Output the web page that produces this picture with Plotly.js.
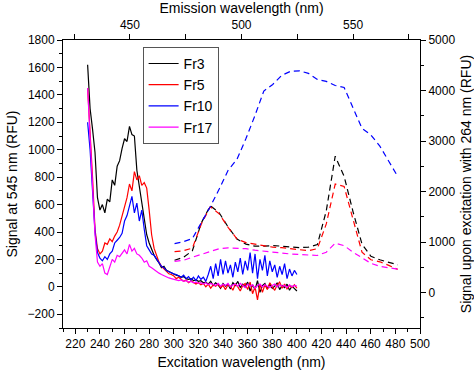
<!DOCTYPE html>
<html>
<head>
<meta charset="utf-8">
<script src="https://cdn.plot.ly/plotly-3.0.1.min.js"></script>
<style>html,body{margin:0;padding:0;background:#fff;}#chart{width:474px;height:374px;}</style>
</head>
<body>
<div id="chart"></div>
<script>
// Excitation spectra (emission at 545 nm), bottom/left axes
const exWave = [230,232,234,236,238,240,242,244,246,248,250,252,254,256,258,260,262,264,266,268,270,272,274,276,278,280,282,284,286,288,290,292,294,296,298,300,302,304,306,308,310,312,314,316,318,320,322,324,326,328,330,332,334,336,338,340,342,344,346,348,350,352,354,356,358,360,362,364,366,368,370,372,374,376,378,380,382,384,386,388,390,392,394,396,398,400];
const exFr3 = [1620,1300,1150,980,650,560,600,540,640,620,780,740,880,920,1010,1080,1060,1170,1110,1100,850,730,620,480,380,320,270,230,200,175,140,150,120,110,100,95,85,80,70,75,60,55,60,45,50,40,45,30,35,20,40,10,30,15,-10,25,5,20,-15,30,10,40,-5,20,0,35,-30,15,-20,45,-40,10,25,-15,20,-10,5,30,-20,10,-5,20,-25,5,-10,-30];
const exFr5 = [1450,1150,800,420,280,240,260,320,310,350,330,370,400,450,520,600,650,750,700,840,780,810,740,760,720,560,380,280,230,180,150,130,110,95,90,80,60,70,55,40,50,30,45,35,20,30,15,25,0,20,-10,15,5,20,-5,10,-20,15,5,-25,20,0,-30,10,25,-20,35,-50,0,-95,20,-40,15,-20,30,0,-25,15,35,-10,20,-15,10,-5,15,-10];
const exFr10 = [1200,1000,700,400,250,210,190,220,200,240,260,320,340,360,390,480,520,590,660,540,610,480,560,420,300,270,240,230,200,170,150,140,120,110,100,95,90,80,70,85,60,75,50,70,45,80,55,70,40,90,150,60,170,80,200,90,190,100,160,70,180,110,210,90,190,120,250,100,240,60,200,120,230,80,190,110,160,70,150,90,170,60,130,80,120,90];
const exFr17 = [1450,1100,750,380,180,150,170,100,90,150,200,180,230,220,250,270,240,310,260,280,240,230,210,180,190,150,140,125,110,100,90,80,70,65,60,55,50,45,50,40,45,35,40,30,35,25,30,20,30,15,25,20,10,25,5,20,10,25,0,15,20,5,25,10,-5,20,5,15,-10,10,20,0,15,5,-5,10,20,0,15,5,10,-5,15,0,10,5];

// Emission spectra (excitation at 264 nm), top/right axes
const emWave = [470,474,478,482,486,490,494,498,502,506,510,514,518,522,526,530,534,538,542,546,550,554,558,562,566,570];
const emFr3 = [640,700,830,1380,1720,1580,1300,1060,960,920,920,930,920,910,890,900,950,1620,2700,2300,1600,960,720,650,600,550];
const emFr5 = [810,830,880,1360,1700,1560,1290,1060,990,960,940,900,890,870,840,830,870,1360,2150,2100,1450,800,650,610,540,460];
const emFr10 = [970,1010,1070,1380,1700,2050,2420,2640,3050,3500,3990,4120,4300,4380,4390,4340,4220,4180,4100,4060,3650,3250,3120,2900,2600,2300];
const emFr17 = [620,640,700,760,820,870,885,880,870,840,820,800,780,765,755,745,735,800,980,930,800,690,580,520,490,465];

const names = ['Fr3','Fr5','Fr10','Fr17'];
const colors = ['#000000','#ff0000','#0000ff','#ff00ff'];
const exSeries = [exFr3, exFr5, exFr10, exFr17];
const emSeries = [emFr3, emFr5, emFr10, emFr17];

const traces = [];
exSeries.forEach((s,i)=>{
  traces.push({x: exWave, y: s, type:'scatter', mode:'lines', name: names[i],
    line:{color: colors[i], width:1.2}, xaxis:'x', yaxis:'y'});
});
emSeries.forEach((s,i)=>{
  traces.push({x: emWave, y: s, type:'scatter', mode:'lines', name: names[i], showlegend:false,
    line:{color: colors[i], width:1.2, dash:'6px,4px'}, xaxis:'x2', yaxis:'y2'});
});

const fnt = {family:'Liberation Sans, Arial, sans-serif', size:12, color:'#000'};
const tfnt = {family:'Liberation Sans, Arial, sans-serif', size:14, color:'#000'};
const axBase = {showgrid:false, zeroline:false, showline:true, linecolor:'#000', linewidth:1,
  ticks:'outside', ticklen:5, tickwidth:1, tickcolor:'#000', tickfont:fnt};

const layout = {
  width:474, height:374,
  margin:{l:63, r:54, t:40, b:46},
  paper_bgcolor:'#fff', plot_bgcolor:'#fff',
  showlegend:true,
  legend:{x:0.223, y:0.976, xanchor:'left', yanchor:'top', bordercolor:'#555', borderwidth:1,
    bgcolor:'#fff', font:tfnt, tracegroupgap:0},
  xaxis: Object.assign({}, axBase, {range:[210,500], tick0:200, dtick:20,
    minor:{dtick:10, ticklen:3, tickcolor:'#000', ticks:'outside'},
    title:{text:'Excitation wavelength (nm)', font:tfnt, standoff:6}}),
  xaxis2: Object.assign({}, axBase, {overlaying:'x', side:'top', range:[420,580], tick0:450, dtick:50,
    minor:{dtick:25, ticklen:5, tickcolor:'#000', ticks:'outside'},
    title:{text:'Emission wavelength (nm)', font:tfnt, standoff:4}}),
  yaxis: Object.assign({}, axBase, {range:[-300,1800], tick0:0, dtick:200,
    minor:{dtick:100, ticklen:3, tickcolor:'#000', ticks:'outside'},
    title:{text:'Signal at 545 nm (RFU)', font:tfnt, standoff:6}}),
  yaxis2: Object.assign({}, axBase, {overlaying:'y', side:'right', range:[-700,5000], tick0:0, dtick:1000,
    minor:{dtick:500, ticklen:3, tickcolor:'#000', ticks:'outside'},
    title:{text:'Signal upon excitation with 264 nm (RFU)', font:tfnt, standoff:6}})
};

Plotly.newPlot('chart', traces, layout, {displayModeBar:false, staticPlot:true});
</script>
</body>
</html>
